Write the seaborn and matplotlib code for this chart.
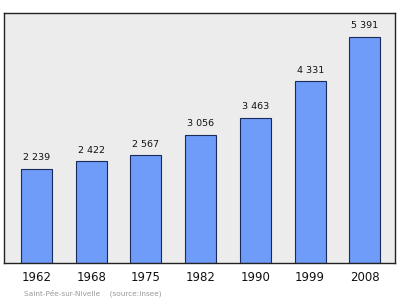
import matplotlib
matplotlib.use("Agg")
import matplotlib.pyplot as plt
import seaborn as sns
import pandas as pd

years = ["1962", "1968", "1975", "1982", "1990", "1999", "2008"]
population = [2239, 2422, 2567, 3056, 3463, 4331, 5391]
value_labels = ["2 239", "2 422", "2 567", "3 056", "3 463", "4 331", "5 391"]

df = pd.DataFrame({"year": years, "pop": population})

sns.set_theme(style="white")
plt.rcParams['font.family'] = ['DejaVu Sans']

fig = plt.figure(figsize=(4.0, 2.99), dpi=100)
ax = fig.add_axes([0.01, 0.1204, 0.9775, 0.8361])
ax.set_facecolor("#ececec")

sns.barplot(data=df, x="year", y="pop", ax=ax, color="#6f9cf8", saturation=1,
            width=0.567, edgecolor="#1a2a5a", linewidth=0.8)

ax.set_xlim(-0.594, 6.55)
ax.set_ylim(0, 5965)
ax.set_yticks([])
ax.set_xlabel("")
ax.set_ylabel("")
ax.tick_params(axis="x", length=0, labelsize=8.5, pad=6, colors="#111111")

for i, (v, lab) in enumerate(zip(population, value_labels)):
    ax.text(i, v + 160, lab, ha="center", va="bottom", fontsize=6.8, color="#111111")

for s in ax.spines.values():
    s.set_color("#222222")
    s.set_linewidth(1.0)

fig.text(24 / 400, 1 - 293 / 299, "Saint-Pée-sur-Nivelle    (source:Insee)",
         fontsize=5.3, color="#999999", ha="left", va="center")

fig.savefig("out.png", dpi=100, facecolor="white")
